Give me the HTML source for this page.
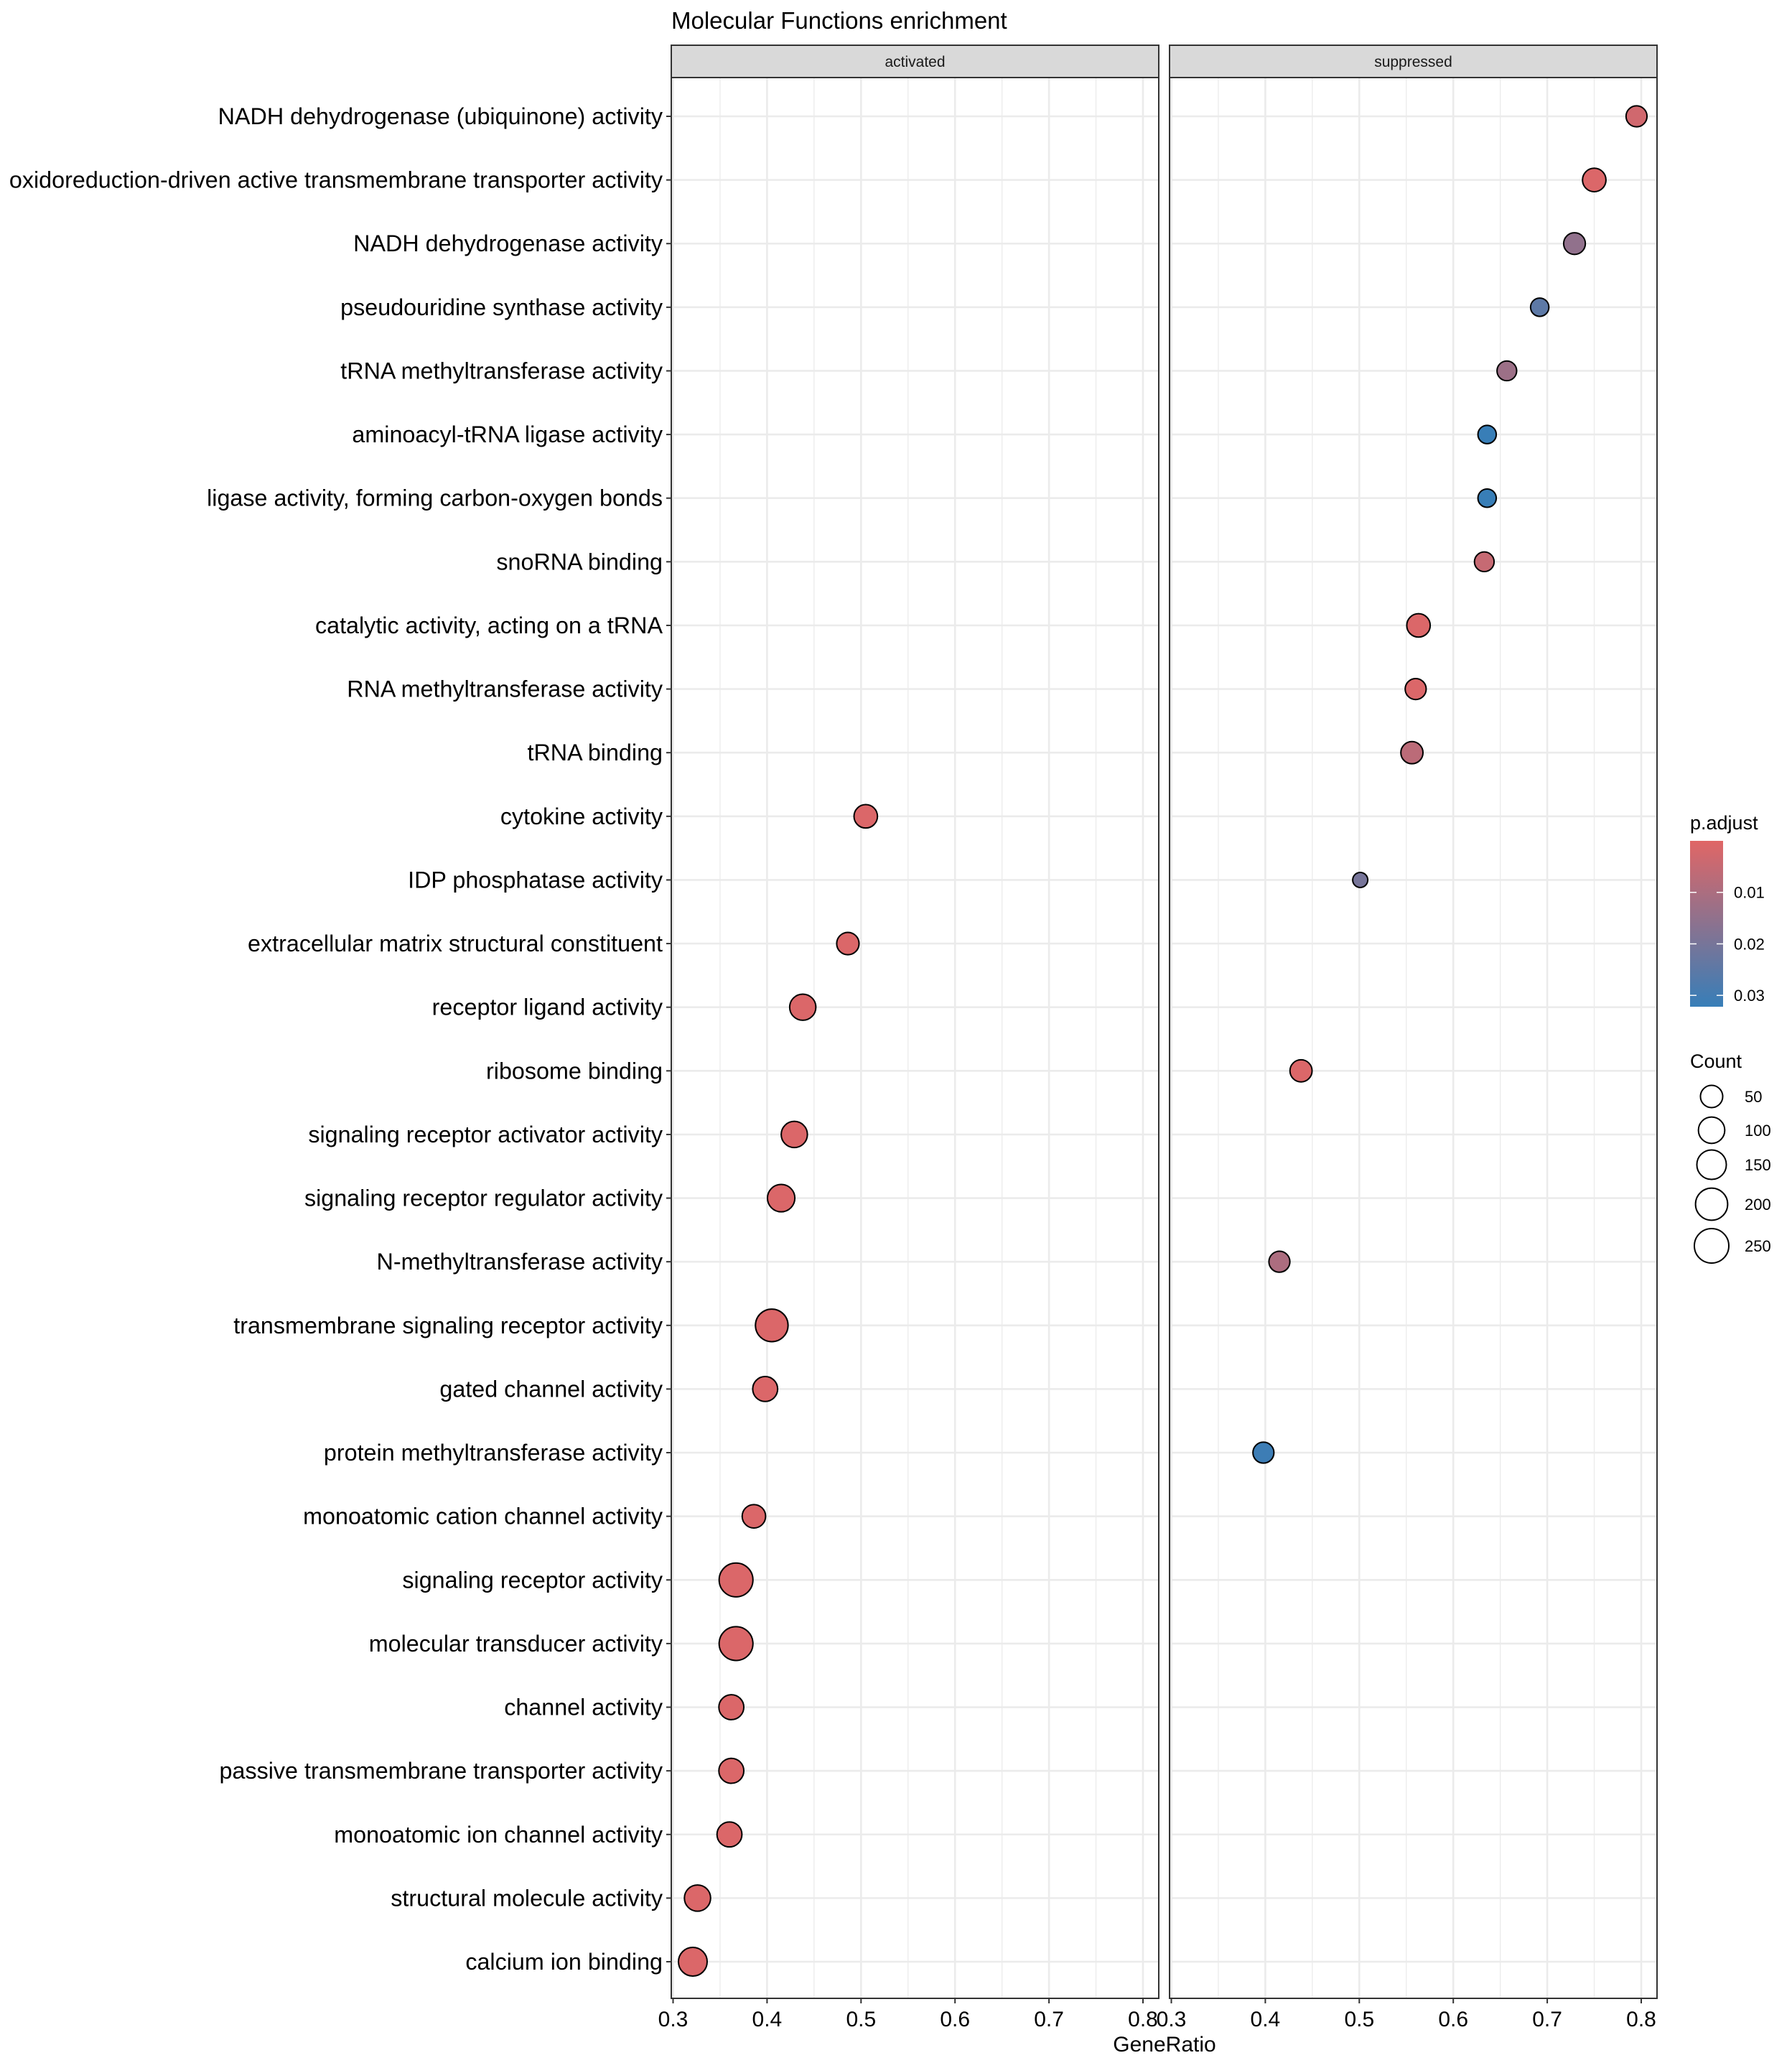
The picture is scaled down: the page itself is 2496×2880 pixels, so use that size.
<!DOCTYPE html>
<html><head><meta charset="utf-8"><style>
html,body{margin:0;padding:0;background:#fff;}
svg{display:block;font-family:"Liberation Sans",Arial,sans-serif;}
</style></head><body>
<svg id="chart" width="2496" height="2880" viewBox="0 0 2496 2880" xmlns="http://www.w3.org/2000/svg">
<rect width="2496" height="2880" fill="#fff"/>
<text x="935" y="40" font-size="33" fill="#000">Molecular Functions enrichment</text>
<g id="panels"></g>
<text x="1622" y="2857" font-size="30" text-anchor="middle">GeneRatio</text>
<g id="legend"></g>
</svg>
<script>
const terms = ["NADH dehydrogenase (ubiquinone) activity","oxidoreduction-driven active transmembrane transporter activity","NADH dehydrogenase activity","pseudouridine synthase activity","tRNA methyltransferase activity","aminoacyl-tRNA ligase activity","ligase activity, forming carbon-oxygen bonds","snoRNA binding","catalytic activity, acting on a tRNA","RNA methyltransferase activity","tRNA binding","cytokine activity","IDP phosphatase activity","extracellular matrix structural constituent","receptor ligand activity","ribosome binding","signaling receptor activator activity","signaling receptor regulator activity","N-methyltransferase activity","transmembrane signaling receptor activity","gated channel activity","protein methyltransferase activity","monoatomic cation channel activity","signaling receptor activity","molecular transducer activity","channel activity","passive transmembrane transporter activity","monoatomic ion channel activity","structural molecule activity","calcium ion binding"];
const panels = ["activated","suppressed"];
const xTicks = [0.3,0.4,0.5,0.6,0.7,0.8];
const colorTicks = [0.01,0.02,0.03];
const sizeBreaks = [50,100,150,200,250];
// activated series
const actTerms = ["cytokine activity","extracellular matrix structural constituent","receptor ligand activity","signaling receptor activator activity","signaling receptor regulator activity","transmembrane signaling receptor activity","gated channel activity","monoatomic cation channel activity","signaling receptor activity","molecular transducer activity","channel activity","passive transmembrane transporter activity","monoatomic ion channel activity","structural molecule activity","calcium ion binding"];
const actRatio = [0.505,0.486,0.438,0.429,0.415,0.405,0.398,0.386,0.367,0.367,0.362,0.362,0.360,0.326,0.321];
const actCount = [55,44,88,88,105,195,72,55,220,220,72,72,72,88,125];
const actP = [0.001,0.001,0.001,0.001,0.001,0.001,0.001,0.001,0.001,0.001,0.001,0.001,0.001,0.001,0.001];
// suppressed series
const supTerms = ["NADH dehydrogenase (ubiquinone) activity","oxidoreduction-driven active transmembrane transporter activity","NADH dehydrogenase activity","pseudouridine synthase activity","tRNA methyltransferase activity","aminoacyl-tRNA ligase activity","ligase activity, forming carbon-oxygen bonds","snoRNA binding","catalytic activity, acting on a tRNA","RNA methyltransferase activity","tRNA binding","IDP phosphatase activity","ribosome binding","N-methyltransferase activity","protein methyltransferase activity"];
const supRatio = [0.795,0.750,0.729,0.692,0.657,0.636,0.636,0.633,0.563,0.560,0.556,0.501,0.438,0.415,0.398];
const supCount = [32,55,38,14,22,14,14,22,55,32,42,2,42,32,32];
const supP = [0.003,0.001,0.015,0.025,0.013,0.032,0.032,0.005,0.001,0.001,0.007,0.02,0.001,0.01,0.031];

const NS="http://www.w3.org/2000/svg";
const panelLeft=[935,1629], panelW=679, plotTop=108, plotBot=2783;
const row0=162, rowStep=(2732-162)/29;
function xScale(p,v){return panelLeft[p]+2.5+(v-0.3)*1309;}
function yScale(term){return row0+terms.indexOf(term)*rowStep;}
function rScale(n){return 9.12+0.973*Math.sqrt(n);}
const c0=[224,102,102], c1=[55,126,184];
function colScale(p){let t=Math.max(0,Math.min(1,p/0.0322));return "rgb("+c0.map((c,i)=>Math.round(c+(c1[i]-c)*t)).join(",")+")";}
function mk(tag,attrs,parent){const e=document.createElementNS(NS,tag);for(const k in attrs)e.setAttribute(k,attrs[k]);parent.appendChild(e);return e;}
const g=document.getElementById("panels");

terms.forEach(t=>{
  const y=yScale(t);
  const tx=mk("text",{x:923,y:y+11,"font-size":32.3,"text-anchor":"end",fill:"#000"},g);
  tx.textContent=t;
  
  
  const tk=mk("line",{x1:928,x2:935,y1:y,y2:y,stroke:"#333","stroke-width":2},g);
  
  
});

panels.forEach((pn,p)=>{
  const L=panelLeft[p];
  const pg=mk("g",{},g);
  
  
  const st=mk("rect",{x:L,y:63,width:panelW,height:45,fill:"#d9d9d9",stroke:"#333","stroke-width":2},pg);
  
  
  const stt=mk("text",{x:L+panelW/2,y:93,"font-size":21,"text-anchor":"middle",fill:"#1a1a1a"},pg);
  stt.textContent=pn;
  
  
  for(let i=0;i<xTicks.length;i++){
    const v=xTicks[i];
    const x=xScale(p,v);
    const gl=mk("line",{x1:x,x2:x,y1:plotTop,y2:plotBot,stroke:"#ebebeb","stroke-width":2.6},pg);
    
    
    const xm=xScale(p,v+0.05);
    if(xm<L+panelW){
      const ml=mk("line",{x1:xm,x2:xm,y1:plotTop,y2:plotBot,stroke:"#ebebeb","stroke-width":1.3},pg);
      
      
    }
    const tk=mk("line",{x1:x,x2:x,y1:plotBot,y2:plotBot+7,stroke:"#333","stroke-width":2},pg);
    
    
    const tl=mk("text",{x:x,y:2822,"font-size":30,"text-anchor":"middle",fill:"#000"},pg);
    tl.textContent=String(v);
    
    
  }
  terms.forEach(t=>{
    const y=yScale(t);
    const hl=mk("line",{x1:L,x2:L+panelW,y1:y,y2:y,stroke:"#ebebeb","stroke-width":2.6},pg);
    
    
  });
  const bd=mk("rect",{x:L,y:plotTop,width:panelW,height:plotBot-plotTop,fill:"none",stroke:"#333","stroke-width":2},pg);
  
  
  const T=p===0?actTerms:supTerms, R=p===0?actRatio:supRatio, C=p===0?actCount:supCount, P=p===0?actP:supP;
  T.forEach((t,i)=>{
    const c=mk("circle",{cx:xScale(p,R[i]),cy:yScale(t),r:rScale(C[i]),fill:colScale(P[i]),stroke:"#000","stroke-width":2},pg);
    
    
  });
});

const lg=document.getElementById("legend");
const lt=mk("text",{x:2354,y:1155,"font-size":27,fill:"#000"},lg);
lt.textContent="p.adjust";


const defs=mk("defs",{},lg);
const grad=mk("linearGradient",{id:"pg",x1:0,y1:0,x2:0,y2:1},defs);
mk("stop",{offset:"0","stop-color":"rgb(224,102,102)"},grad);
mk("stop",{offset:"1","stop-color":"rgb(55,126,184)"},grad);
const cb=mk("rect",{x:2354,y:1171,width:46,height:231,fill:"url(#pg)"},lg);


function cbY(v){return 1171+v/0.0322*231;}
colorTicks.forEach(v=>{
  const y=cbY(v);
  mk("line",{x1:2354,x2:2363,y1:y,y2:y,stroke:"#fff","stroke-width":1.5},lg);
  mk("line",{x1:2391,x2:2400,y1:y,y2:y,stroke:"#fff","stroke-width":1.5},lg);
  const t=mk("text",{x:2415,y:y+8,"font-size":22,fill:"#000"},lg);
  t.textContent=v.toFixed(2);
  
  
});
const ct=mk("text",{x:2354,y:1487,"font-size":27,fill:"#000"},lg);
ct.textContent="Count";


const sizeY=[1527,1574,1622,1677,1735];
sizeBreaks.forEach((n,i)=>{
  const c=mk("circle",{cx:2384,cy:sizeY[i],r:rScale(n)-0.5,fill:"none",stroke:"#000","stroke-width":2},lg);
  
  
  const t=mk("text",{x:2430,y:sizeY[i]+8,"font-size":22,fill:"#000"},lg);
  t.textContent=String(n);
  
  
});
</script>
</body></html>
